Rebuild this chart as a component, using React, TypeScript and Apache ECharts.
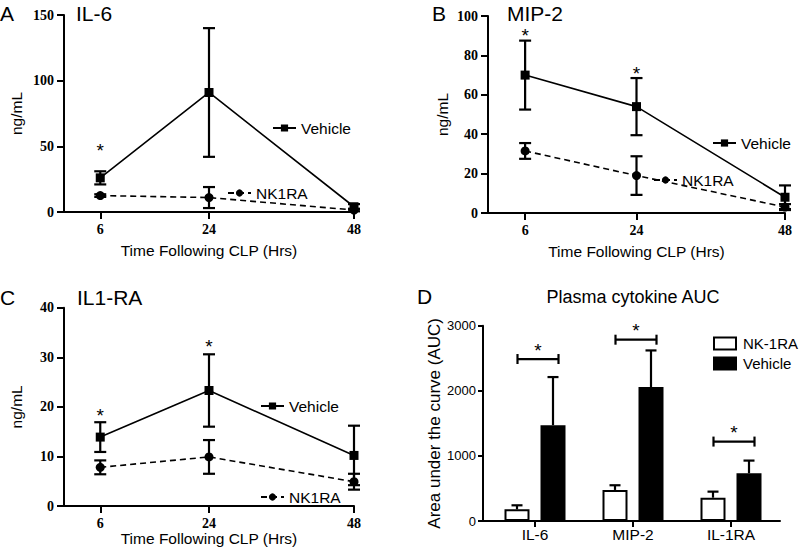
import React, { useEffect, useRef } from 'react';
import * as echarts from 'echarts';

// ---------- data ----------
const hours = [6, 24, 48];

// Panel A: IL-6 (ng/mL)
const il6Vehicle = [26, 91, 4];
const il6VehicleErr = [5, 49, 2];
const il6Nk = [12.5, 11, 1.5];
const il6NkErr = [1, 8, 1];
const il6StarX = [6];
const il6StarY = [50];

// Panel B: MIP-2 (ng/mL)
const mipVehicle = [70, 54, 8];
const mipVehicleErr = [17.5, 14.5, 6];
const mipNk = [31.5, 19, 3];
const mipNkErr = [4, 9.8, 1.5];
const mipStarX = [6, 24];
const mipStarY = [92, 73];

// Panel C: IL1-RA (ng/mL)
const ilraVehicle = [13.9, 23.3, 10.2];
const ilraVehicleErr = [3, 7.3, 6];
const ilraNk = [7.8, 9.9, 4.9];
const ilraNkErr = [1.4, 3.4, 1.6];
const ilraStarX = [6, 24];
const ilraStarY = [19, 33];

// Panel D: AUC
const aucCats = ['IL-6', 'MIP-2', 'IL-1RA'];
const aucNk = [180, 477, 358];
const aucNkErr = [61, 72, 93];
const aucVehicle = [1472, 2057, 734];
const aucVehicleErr = [739, 563, 194];
const aucBracket = [2488, 2785, 1220];

// ---------- helpers ----------
const SANS = '"Liberation Sans", Arial, sans-serif';
const SERIF = '"Liberation Serif", "Times New Roman", serif';

const errRender = (offset: number, cap: number, both: boolean) => (params: any, api: any) => {
  const x = api.value(0);
  const lo = api.value(1);
  const hi = api.value(2);
  const p1 = api.coord([x, lo]);
  const p2 = api.coord([x, hi]);
  const cx = p1[0] + offset;
  const style = { stroke: '#000', lineWidth: 2.2 };
  const children: any[] = [
    { type: 'line', shape: { x1: cx, y1: p1[1], x2: cx, y2: p2[1] }, style },
    { type: 'line', shape: { x1: cx - cap / 2, y1: p2[1], x2: cx + cap / 2, y2: p2[1] }, style },
  ];
  if (both) {
    children.push({ type: 'line', shape: { x1: cx - cap / 2, y1: p1[1], x2: cx + cap / 2, y2: p1[1] }, style });
  }
  return { type: 'group', children };
};

const starRender = (params: any, api: any) => {
  const p = api.coord([api.value(0), api.value(1)]);
  return {
    type: 'text',
    x: p[0],
    y: p[1] + 4,
    style: { text: '*', fill: '#000', fontSize: 19, fontFamily: SANS, align: 'center', verticalAlign: 'middle' },
  };
};

const bracketRender = (params: any, api: any) => {
  const p = api.coord([api.value(0), api.value(1)]);
  const cx = p[0] + 3;
  const y = p[1];
  const style = { stroke: '#000', lineWidth: 2.2 };
  return {
    type: 'group',
    children: [
      { type: 'line', shape: { x1: cx - 20.5, y1: y, x2: cx + 20.5, y2: y }, style },
      { type: 'line', shape: { x1: cx - 20.5, y1: y - 5, x2: cx - 20.5, y2: y + 5 }, style },
      { type: 'line', shape: { x1: cx + 20.5, y1: y - 5, x2: cx + 20.5, y2: y + 5 }, style },
      {
        type: 'text',
        x: cx,
        y: y - 13 + 4,
        style: { text: '*', fill: '#000', fontSize: 19, fontFamily: SANS, align: 'center', verticalAlign: 'middle' },
      },
    ],
  };
};

interface LineCfg {
  letter: string;
  title: string;
  titleX: number;
  letterX: number;
  headY: number;
  grid: { left: number; top: number; width: number; height: number };
  yMax: number;
  yInterval: number;
  xNameGap: number;
  yNameGap: number;
  vehicle: number[];
  vehicleErr: number[];
  nk: number[];
  nkErr: number[];
  starX: number[];
  starY: number[];
  vehLegend: { left: number; y: number };
  nkLegend: { left: number; y: number };
}

function lineOption(c: LineCfg) {
  const axisLineStyle = { color: '#000', width: 2 };
  const tickLabel = { color: '#000', fontFamily: SERIF, fontWeight: 'bold', fontSize: 14 };
  const nameStyle = { color: '#000', fontFamily: SANS, fontSize: 15.5 };
  const legendText = { color: '#000', fontFamily: SANS, fontSize: 15.5, padding: [0, 0, 0, 0] };
  return {
    animation: false,
    backgroundColor: '#fff',
    grid: c.grid,
    graphic: [
      { type: 'text', x: c.letterX, y: c.headY, style: { text: c.letter, fill: '#000', fontSize: 21, fontFamily: SANS, verticalAlign: 'middle' } },
      { type: 'text', x: c.titleX, y: c.headY, style: { text: c.title, fill: '#000', fontSize: 21, fontFamily: SANS, verticalAlign: 'middle' } },
    ],
    legend: [
      {
        data: ['Vehicle'],
        left: c.vehLegend.left,
        top: c.vehLegend.y - 9,
        itemWidth: 23,
        itemHeight: 9,
        textStyle: legendText,
      },
      {
        data: ['NK1RA'],
        left: c.nkLegend.left,
        top: c.nkLegend.y - 9,
        itemWidth: 23,
        itemHeight: 9,
        textStyle: legendText,
      },
    ],
    xAxis: {
      type: 'value',
      min: 0,
      max: 48,
      axisLine: { show: true, lineStyle: axisLineStyle },
      axisTick: { show: true, customValues: hours, length: 7, lineStyle: axisLineStyle },
      axisLabel: { customValues: hours, margin: 10, ...tickLabel },
      splitLine: { show: false },
      name: 'Time Following CLP (Hrs)',
      nameLocation: 'middle',
      nameGap: c.xNameGap,
      nameMoveOverlap: false,
      nameTextStyle: nameStyle,
    },
    yAxis: {
      type: 'value',
      min: 0,
      max: c.yMax,
      interval: c.yInterval,
      axisLine: { show: true, lineStyle: axisLineStyle },
      axisTick: { show: true, length: 7, lineStyle: axisLineStyle },
      axisLabel: { margin: 10, ...tickLabel },
      splitLine: { show: false },
      name: 'ng/mL',
      nameLocation: 'middle',
      nameGap: c.yNameGap,
      nameMoveOverlap: false,
      nameTextStyle: nameStyle,
    },
    series: [
      {
        type: 'custom',
        z: 1,
        renderItem: errRender(0, 12, true),
        encode: { x: 0, y: [1, 2] },
        data: hours.map((h, i) => [h, c.vehicle[i] - c.vehicleErr[i], c.vehicle[i] + c.vehicleErr[i]]),
        silent: true,
      },
      {
        type: 'custom',
        z: 1,
        renderItem: errRender(0, 12, true),
        encode: { x: 0, y: [1, 2] },
        data: hours.map((h, i) => [h, c.nk[i] - c.nkErr[i], c.nk[i] + c.nkErr[i]]),
        silent: true,
      },
      {
        type: 'line',
        name: 'Vehicle',
        z: 3,
        data: hours.map((h, i) => [h, c.vehicle[i]]),
        symbol: 'rect',
        symbolSize: 9,
        lineStyle: { color: '#000', width: 1.6 },
        itemStyle: { color: '#000' },
      },
      {
        type: 'line',
        name: 'NK1RA',
        z: 3,
        data: hours.map((h, i) => [h, c.nk[i]]),
        symbol: 'circle',
        symbolSize: 9,
        lineStyle: { color: '#000', width: 1.6, type: [6, 4] },
        itemStyle: { color: '#000' },
      },
      {
        type: 'custom',
        z: 4,
        renderItem: starRender,
        encode: { x: 0, y: 1 },
        data: c.starX.map((x, i) => [x, c.starY[i]]),
        silent: true,
      },
    ],
  };
}

const optionA = lineOption({
  letter: 'A', title: 'IL-6', letterX: 0, titleX: 76, headY: 13,
  grid: { left: 58, top: 15, width: 296, height: 197 },
  yMax: 150, yInterval: 50, xNameGap: 30, yNameGap: 40,
  vehicle: il6Vehicle, vehicleErr: il6VehicleErr, nk: il6Nk, nkErr: il6NkErr,
  starX: il6StarX, starY: il6StarY,
  vehLegend: { left: 267, y: 124 },
  nkLegend: { left: 222, y: 189 },
});

const optionB = lineOption({
  letter: 'B', title: 'MIP-2', letterX: 32, titleX: 107, headY: 13,
  grid: { left: 88, top: 16, width: 297, height: 197 },
  yMax: 100, yInterval: 20, xNameGap: 30, yNameGap: 38,
  vehicle: mipVehicle, vehicleErr: mipVehicleErr, nk: mipNk, nkErr: mipNkErr,
  starX: mipStarX, starY: mipStarY,
  vehLegend: { left: 307, y: 139 },
  nkLegend: { left: 248, y: 176 },
});

const optionC = lineOption({
  letter: 'C', title: 'IL1-RA', letterX: 0, titleX: 77, headY: 21,
  grid: { left: 58, top: 31.7, width: 296, height: 198.3 },
  yMax: 40, yInterval: 10, xNameGap: 24, yNameGap: 40,
  vehicle: ilraVehicle, vehicleErr: ilraVehicleErr, nk: ilraNk, nkErr: ilraNkErr,
  starX: ilraStarX, starY: ilraStarY,
  vehLegend: { left: 255, y: 126 },
  nkLegend: { left: 255, y: 217 },
});

const optionD = (() => {
  const axisLineStyle = { color: '#000', width: 2 };
  const labelStyle = { color: '#000', fontFamily: SANS };
  return {
    animation: false,
    backgroundColor: '#fff',
    grid: { left: 86, top: 49.7, width: 294, height: 195.3 },
    graphic: [
      { type: 'text', x: 17, y: 20, style: { text: 'D', fill: '#000', fontSize: 21, fontFamily: SANS, verticalAlign: 'middle' } },
      { type: 'text', x: 233, y: 21, style: { text: 'Plasma cytokine AUC', fill: '#000', fontSize: 18, fontFamily: SANS, align: 'center', verticalAlign: 'middle' } },
      { type: 'line', shape: { x1: 82, y1: 245, x2: 87, y2: 245 }, style: { stroke: '#000', lineWidth: 2 } },
    ],
    legend: {
      orient: 'vertical',
      left: 308,
      top: 55,
      itemWidth: 22,
      itemHeight: 12,
      itemGap: 5,
      icon: 'rect',
      data: ['NK-1RA', 'Vehicle'],
      textStyle: { ...labelStyle, fontSize: 15, padding: [0, 0, 0, 2] },
    },
    xAxis: {
      type: 'category',
      data: aucCats,
      axisLine: { show: true, lineStyle: axisLineStyle },
      axisTick: { show: true, alignWithLabel: true, length: 6, lineStyle: axisLineStyle },
      axisLabel: { margin: 5, fontSize: 15.5, ...labelStyle },
    },
    yAxis: {
      type: 'value',
      min: 0,
      max: 3000,
      interval: 1000,
      offset: 3,
      axisLine: { show: true, lineStyle: axisLineStyle },
      axisTick: { show: true, length: 5, lineStyle: axisLineStyle },
      axisLabel: { margin: 7, fontSize: 13, formatter: (v: number) => String(v), ...labelStyle },
      splitLine: { show: false },
      name: 'Area under the curve (AUC)',
      nameLocation: 'middle',
      nameGap: 40,
      nameMoveOverlap: false,
      nameTextStyle: { ...labelStyle, fontSize: 17 },
    },
    series: [
      {
        type: 'bar',
        name: 'NK-1RA',
        data: aucNk,
        barWidth: 25,
        barGap: '44%',
        itemStyle: { color: '#fff', borderColor: '#000', borderWidth: 2 },
      },
      {
        type: 'bar',
        name: 'Vehicle',
        data: aucVehicle,
        barWidth: 25,
        barGap: '44%',
        itemStyle: { color: '#000', borderColor: '#000', borderWidth: 2 },
      },
      {
        type: 'custom',
        z: 3,
        renderItem: errRender(-18, 11, false),
        encode: { x: 0, y: [1, 2] },
        data: aucNk.map((v, i) => [i, v, v + aucNkErr[i]]),
        silent: true,
      },
      {
        type: 'custom',
        z: 3,
        renderItem: errRender(18, 11, false),
        encode: { x: 0, y: [1, 2] },
        data: aucVehicle.map((v, i) => [i, v, v + aucVehicleErr[i]]),
        silent: true,
      },
      {
        type: 'custom',
        z: 3,
        renderItem: bracketRender,
        encode: { x: 0, y: 1 },
        data: aucBracket.map((v, i) => [i, v]),
        silent: true,
      },
    ],
  };
})();

function Panel({ option, left, top }: { option: any; left: number; top: number }) {
  const ref = useRef<HTMLDivElement>(null);
  useEffect(() => {
    if (!ref.current) return;
    const chart = echarts.init(ref.current, null, { renderer: 'svg' });
    chart.setOption(option);
    return () => chart.dispose();
  }, [option]);
  return <div ref={ref} style={{ position: 'absolute', left, top, width: 400, height: 276 }} />;
}

export default function App() {
  return (
    <div style={{ position: 'fixed', left: 0, top: 0, width: 800, height: 552, background: '#fff', overflow: 'hidden' }}>
      <Panel option={optionA} left={0} top={0} />
      <Panel option={optionB} left={400} top={0} />
      <Panel option={optionC} left={0} top={276} />
      <Panel option={optionD} left={400} top={276} />
    </div>
  );
}
